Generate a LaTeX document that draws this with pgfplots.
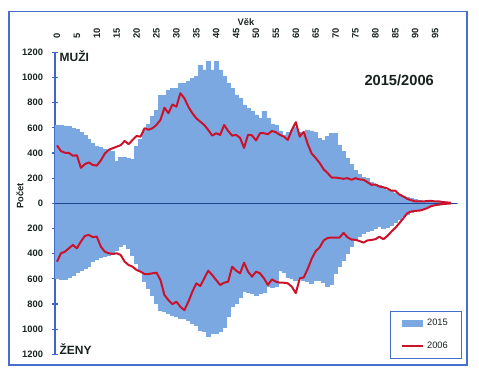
\documentclass[border=0pt]{standalone}
\usepackage{pgfplots}
\pgfplotsset{compat=1.18}
\usepackage{pgfplotstable}
\usepackage{fontspec}
\setmainfont{Liberation Sans}
\definecolor{barblue}{RGB}{124,168,226}
\definecolor{redline}{RGB}{204,18,42}
\definecolor{axisblue}{RGB}{62,102,200}
\definecolor{zeroblue}{RGB}{30,68,150}
\definecolor{framecol}{RGB}{70,110,205}
\definecolor{txt}{RGB}{25,35,30}
\pgfplotstableread{
age m15 f15 m06 f06
0 623 596 460 464
1 620 601 415 397
2 615 601 402 384
3 608 591 400 357
4 598 570 378 331
5 585 551 382 357
6 562 530 282 304
7 540 517 311 259
8 510 504 325 251
9 475 464 305 269
10 450 445 300 264
11 445 429 340 344
12 432 418 395 384
13 420 410 425 397
14 412 402 438 402
15 335 375 450 397
16 368 344 462 410
17 368 323 496 464
18 360 360 470 490
19 348 410 504 504
20 455 477 535 530
21 510 530 530 543
22 580 623 597 562
23 630 676 585 562
24 690 729 597 556
25 740 795 623 551
26 855 849 663 610
27 855 862 760 729
28 895 875 716 769
29 915 888 785 801
30 915 902 768 782
31 955 915 875 822
32 955 915 835 849
33 970 928 768 782
34 995 955 716 703
35 1010 968 676 636
36 1098 1008 649 657
37 1060 1021 623 596
38 1125 1056 583 535
39 1060 1034 538 570
40 1130 1034 557 610
41 1060 1021 544 649
42 1006 982 623 631
43 954 902 575 623
44 914 822 538 504
45 861 795 544 535
46 835 750 520 556
47 782 700 440 472
48 755 705 545 543
49 729 716 540 583
50 702 730 500 543
51 676 716 557 556
52 729 711 557 596
53 676 657 549 649
54 628 668 575 604
55 623 662 565 623
56 575 530 544 631
57 544 545 530 631
58 565 590 504 636
59 583 600 583 663
60 602 615 645 714
61 565 595 530 596
62 544 610 568 589
63 583 623 470 520
64 575 636 395 440
65 565 615 360 380
66 517 610 320 350
67 500 630 270 295
68 530 663 240 275
69 555 645 205 272
70 555 555 205 272
71 464 497 200 272
72 411 450 195 235
73 359 397 200 270
74 306 338 187 288
75 260 298 200 290
76 230 264 190 300
77 205 240 187 312
78 195 225 168 295
79 165 211 147 291
80 150 195 150 285
81 140 182 133 265
82 125 195 128 285
83 105 190 118 260
84 95 171 100 225
85 80 150 100 195
86 68 128 70 158
87 55 105 55 120
88 48 85 35 78
89 38 72 25 65
90 30 58 15 60
91 22 48 15 58
92 16 38 15 50
93 11 25 18 38
94 8 18 20 22
95 6 12 15 15
96 4 8 15 10
97 3 5 10 6
98 2 3 7 3
99 1 2 4 1
100 1 1 nan nan
}\pyramid
\begin{document}
\begin{tikzpicture}
\path[use as bounding box] (0pt,0pt) rectangle (359.25pt,282.75pt);
\draw[framecol, line width=0.9pt] (6.75pt,9pt) rectangle (350.25pt,274pt);
\begin{axis}[
  at={(41.25pt,17pt)}, anchor=south west,
  scale only axis, width=301.5pt, height=226.5pt,
  xmin=-0.5, xmax=100.5, ymin=-1200, ymax=1200,
  axis x line*=top, axis y line*=left,
  x axis line style={draw=none},
  y axis line style={draw=axisblue, line width=0.9pt},
  xtick={0,5,...,95}, xtick style={draw=none},
  ytick={-1200,-1000,...,1200},
  yticklabels={1200,1000,800,600,400,200,0,200,400,600,800,1000,1200},
  ytick style={draw=axisblue, line width=0.9pt},
  tick align=center, major tick length=4pt,
  /pgf/number format/assume math mode=true,
  xticklabel style={rotate=90, anchor=west, font=\fontsize{7}{8}\selectfont\bfseries, text=txt},
  yticklabel style={font=\fontsize{7}{8}\selectfont\bfseries, text=txt},
  xticklabel shift=4.5pt, yticklabel shift=3.5pt,
  xlabel={Věk}, ylabel={Počet},
  xlabel style={at={(axis description cs:0.475,1.10)}, anchor=center, font=\fontsize{7}{8}\selectfont\bfseries, text=txt},
  ylabel style={at={(axis description cs:-0.087,0.524)}, anchor=center, rotate=0, font=\fontsize{7}{8}\selectfont\bfseries, text=txt},
  legend style={at={(0.833,0.144)}, anchor=north west, draw=framecol, line width=0.8pt, fill=white,
    font=\fontsize{7}{8.4}\selectfont, inner xsep=8pt, inner ysep=4pt, row sep=6.5pt, text=txt},
  legend cell align=left,
  clip=false,
]
\addplot[ybar, bar width=1, bar shift=0pt, fill=barblue, draw=barblue, line width=0.5pt,
  legend image code/.code={\fill[barblue] (0pt,-2.3pt) rectangle (15pt,2.3pt);}]
  table[x=age, y=m15] {\pyramid};
\addlegendentry{2015}
\addplot[ybar, bar width=1, bar shift=0pt, fill=barblue, draw=barblue, line width=0.5pt, forget plot]
  table[x=age, y expr=-\thisrow{f15}] {\pyramid};
\addplot[zeroblue, line width=0.9pt, forget plot] coordinates {(-0.5,0) (100.5,0)};
\addplot[redline, line width=1.5pt, line join=round, mark=none,
  legend image code/.code={\draw[redline, line width=1.5pt] (0pt,0pt) -- (16pt,0pt);}]
  table[x=age, y=m06] {\pyramid};
\addlegendentry{2006}
\addplot[redline, line width=1.5pt, line join=round, mark=none, forget plot]
  table[x=age, y expr=-\thisrow{f06}] {\pyramid};
\node[anchor=base west, font=\fontsize{9}{10}\selectfont\bfseries, text=txt, inner sep=0pt] at (axis cs:0.6,1125) {MUŽI};
\node[anchor=base west, font=\fontsize{9}{10}\selectfont\bfseries, text=txt, inner sep=0pt] at (axis cs:0.6,-1203) {ŽENY};
\node[anchor=base west, font=\fontsize{11}{12}\selectfont\bfseries, text=txt, inner sep=0pt] at (axis cs:77.2,940) {2015/2006};
\end{axis}
\end{tikzpicture}
\end{document}
